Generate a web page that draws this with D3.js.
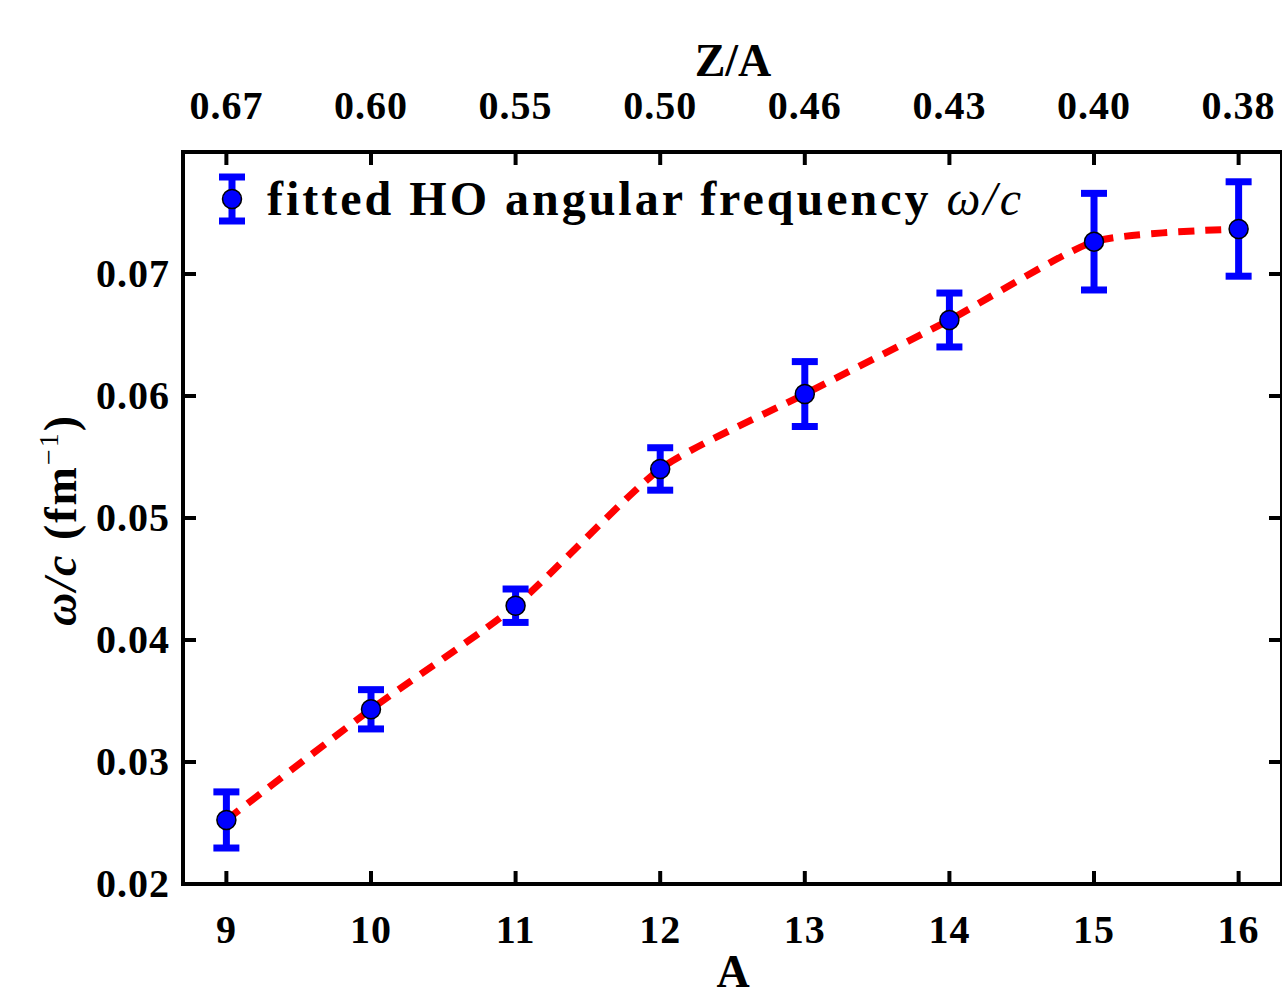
<!doctype html>
<html>
<head>
  <script src="https://d3js.org/d3.v7.min.js"></script>
  <style>
    body { margin: 0; background: #fff; }
    text { font-family: 'Liberation Serif', 'DejaVu Serif', serif; font-weight: bold; fill: #000; }
  </style>
</head>
<body>
<svg id="chart" width="1282" height="988"></svg>
<script>
  // mass number A and fitted HO angular frequency (fm^-1)
  const massNumbers = [9, 10, 11, 12, 13, 14, 15, 16];
  const omegaValues = [0.02525, 0.03432, 0.04281, 0.05402, 0.06016, 0.06623, 0.07265, 0.07369];
  const omegaErrors = [0.00230, 0.00161, 0.00137, 0.00174, 0.00266, 0.00221, 0.00396, 0.00387];
  const zOverALabels = ["0.67", "0.60", "0.55", "0.50", "0.46", "0.43", "0.40", "0.38"];
  const yTicks = [0.02, 0.03, 0.04, 0.05, 0.06, 0.07];

  var svg = d3.select("#chart");
  // plot box (named so they don't clash with window.top)
  var pLeft = 183, pRight = 1282, pTop = 152, pBottom = 884;

  var x = d3.scaleLinear().domain([8.7, 16.3]).range([pLeft, pRight]);
  var y = d3.scaleLinear().domain([0.02, 0.08]).range([pBottom, pTop]);

  var pts = massNumbers.map((a, i) => ({a: a, v: omegaValues[i], e: omegaErrors[i], z: zOverALabels[i]}));

  // ticks, pointing inward on all four sides
  var tickLen = 13;
  var ticks = svg.append("g").attr("stroke", "#000").attr("stroke-width", 4);
  massNumbers.forEach(function(a) {
    ticks.append("line").attr("x1", x(a)).attr("x2", x(a)).attr("y1", pBottom).attr("y2", pBottom - tickLen);
    ticks.append("line").attr("x1", x(a)).attr("x2", x(a)).attr("y1", pTop).attr("y2", pTop + tickLen);
  });
  yTicks.forEach(function(t) {
    ticks.append("line").attr("x1", pLeft).attr("x2", pLeft + tickLen).attr("y1", y(t)).attr("y2", y(t));
    ticks.append("line").attr("x1", pRight).attr("x2", pRight - tickLen).attr("y1", y(t)).attr("y2", y(t));
  });

  // frame
  svg.append("rect")
    .attr("x", pLeft).attr("y", pTop)
    .attr("width", pRight - pLeft).attr("height", pBottom - pTop)
    .attr("fill", "none").attr("stroke", "#000").attr("stroke-width", 4);

  // tick labels
  svg.append("g").selectAll("text").data(massNumbers).join("text")
    .attr("x", d => x(d)).attr("y", 943)
    .attr("text-anchor", "middle").attr("font-size", 40).attr("letter-spacing", 1)
    .text(d => d);

  svg.append("g").selectAll("text").data(pts).join("text")
    .attr("x", d => x(d.a)).attr("y", 119)
    .attr("text-anchor", "middle").attr("font-size", 40).attr("letter-spacing", 1)
    .text(d => d.z);

  svg.append("g").selectAll("text").data(yTicks).join("text")
    .attr("x", 170).attr("y", d => y(d) + 13)
    .attr("text-anchor", "end").attr("font-size", 40).attr("letter-spacing", 1)
    .text(d => d.toFixed(2));

  // axis titles
  svg.append("text").attr("x", 733).attr("y", 76)
    .attr("text-anchor", "middle").attr("font-size", 46).text("Z/A");
  svg.append("text").attr("x", 733).attr("y", 987)
    .attr("text-anchor", "middle").attr("font-size", 46).text("A");

  var ylab = svg.append("text")
    .attr("transform", "translate(76,520) rotate(-90)")
    .attr("text-anchor", "middle").attr("font-size", 46).attr("letter-spacing", 2);
  ylab.append("tspan").attr("font-style", "italic").text("ω/c");
  ylab.append("tspan").text(" (fm");
  ylab.append("tspan").attr("font-weight", "normal").attr("font-size", 28).attr("dy", -18).text("−1");
  ylab.append("tspan").attr("dy", 18).text(")");

  // smooth dashed red curve through the points
  var line = d3.line().x(d => x(d.a)).y(d => y(d.v)).curve(d3.curveCardinal.tension(0.4));
  svg.append("path").datum(pts)
    .attr("d", line)
    .attr("fill", "none").attr("stroke", "#ff0000")
    .attr("stroke-width", 7).attr("stroke-dasharray", "16,11");

  // error bars
  var blue = "#0000ff", capW = 13;
  var eb = svg.append("g").attr("stroke", blue).attr("stroke-width", 7);
  pts.forEach(function(d) {
    eb.append("line").attr("x1", x(d.a)).attr("x2", x(d.a)).attr("y1", y(d.v - d.e)).attr("y2", y(d.v + d.e));
    eb.append("line").attr("x1", x(d.a) - capW).attr("x2", x(d.a) + capW).attr("y1", y(d.v - d.e)).attr("y2", y(d.v - d.e));
    eb.append("line").attr("x1", x(d.a) - capW).attr("x2", x(d.a) + capW).attr("y1", y(d.v + d.e)).attr("y2", y(d.v + d.e));
  });

  svg.append("g").selectAll("circle").data(pts).join("circle")
    .attr("cx", d => x(d.a)).attr("cy", d => y(d.v)).attr("r", 9.5)
    .attr("fill", blue).attr("stroke", "#000").attr("stroke-width", 1.5);

  // legend
  var lx = 232, ly = 199;
  var lg = svg.append("g");
  lg.append("line").attr("x1", lx).attr("x2", lx).attr("y1", ly - 22).attr("y2", ly + 22)
    .attr("stroke", blue).attr("stroke-width", 7);
  lg.append("line").attr("x1", lx - capW).attr("x2", lx + capW).attr("y1", ly - 22).attr("y2", ly - 22)
    .attr("stroke", blue).attr("stroke-width", 7);
  lg.append("line").attr("x1", lx - capW).attr("x2", lx + capW).attr("y1", ly + 22).attr("y2", ly + 22)
    .attr("stroke", blue).attr("stroke-width", 7);
  lg.append("circle").attr("cx", lx).attr("cy", ly).attr("r", 9.5)
    .attr("fill", blue).attr("stroke", "#000").attr("stroke-width", 1.5);

  var lt = lg.append("text").attr("x", 267).attr("y", 215).attr("font-size", 48);
  lt.append("tspan").attr("letter-spacing", 3).text("fitted HO angular frequency ");
  lt.append("tspan").attr("font-style", "italic").attr("font-weight", "normal").attr("letter-spacing", 3).text("ω/c");
</script>
</body>
</html>
